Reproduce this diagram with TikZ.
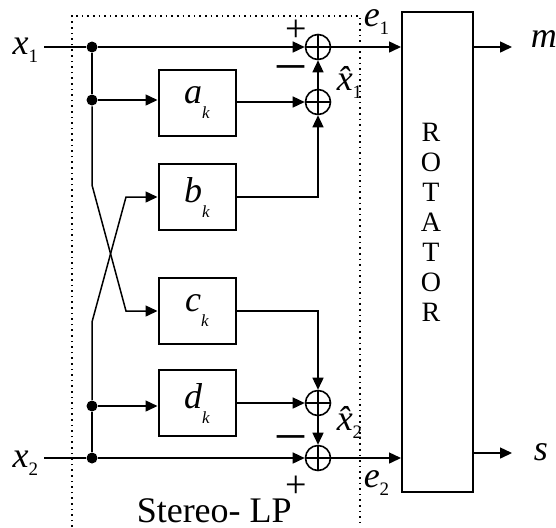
\documentclass[tikz,border=0pt]{standalone}
\usepackage{fontspec}
\setmainfont{Liberation Serif}
\usetikzlibrary{arrows.meta, positioning}

\newcommand{\nsub}[1]{\raisebox{-4pt}{\fontsize{9.5}{9.5}\selectfont\upshape #1}}
\newcommand{\ksub}{\raisebox{-7.5pt}{\fontsize{8.5}{8.5}\selectfont\itshape k}}

\tikzset{
  blk/.style={draw, line width=1pt, minimum width=38.5pt, minimum height=33pt, inner sep=0pt,
    font=\fontsize{18}{18}\selectfont\itshape},
  sumnode/.style={draw, circle, line width=0.8pt, minimum size=12.5pt, inner sep=0pt,
    path picture={\draw[line width=0.6pt]
      (path picture bounding box.north) -- (path picture bounding box.south)
      (path picture bounding box.west) -- (path picture bounding box.east);}},
  jdot/.style={circle, fill, minimum size=5.5pt, inner sep=0pt},
  sig/.style={-{Triangle[length=6pt,width=5.5pt]}},
  lbl/.style={inner sep=0pt, anchor=base west, font=\fontsize{18}{18}\selectfont\itshape},
  plus/.style={inner sep=0pt, anchor=base, text height=11pt, text depth=0pt,
    font=\fontsize{19}{19}\selectfont},
  minus/.style={inner sep=0pt, anchor=base, text height=8pt, text depth=0pt,
    font=\fontsize{27}{27}\selectfont},
}

\begin{document}
\begin{tikzpicture}[x=0.5pt, y=-0.5pt, line width=0.75pt]
  \useasboundingbox (0,0) rectangle (556,527);

  % Stereo-LP frame
  \draw[dotted, line width=0.8pt] (72,527) -- (72,16) -- (360,16) -- (360,527);
  \node[inner sep=0pt, anchor=base west, font=\fontsize{18}{18}\selectfont] (lp) at (136,522) {Stereo- LP};

  % Inputs and junctions
  \coordinate (x1in) at (44,47);
  \coordinate (x2in) at (44,458);
  \node[lbl] (x1) at (12,54) {x\nsub{1}};
  \node[lbl] (x2) at (12,467) {x\nsub{2}};
  \node[jdot] (j1) at (92,47) {};
  \node[jdot] (j2) at (92,100) {};
  \node[jdot] (j3) at (92,406) {};
  \node[jdot] (j4) at (92,458) {};

  % Filters
  \node[blk] (a) at (197,103) {a\ksub};
  \node[blk] (b) at (197,197) {b\ksub};
  \node[blk] (c) at (197,311) {c\ksub};
  \node[blk] (d) at (197,403) {d\ksub};

  % Summing points
  \node[sumnode] (s1) at (318,47) {};
  \node[sumnode] (s2) at (318,102) {};
  \node[sumnode] (s3) at (318,403) {};
  \node[sumnode] (s4) at (318,458) {};

  % Rotator
  \node[draw, line width=1pt, minimum width=35.5pt, minimum height=240pt] (rot) at (437.5,252) {};
  \node[align=center, inner sep=0pt, font=\fontsize{14}{15}\selectfont] (rottxt) at (431,222)
    {R\\O\\T\\A\\T\\O\\R};
  \coordinate (mout) at (512,47);
  \coordinate (sout) at (512,453);
  \node[lbl] (m) at (530,47) {m};
  \node[lbl] (s) at (533,460) {s};

  % Direct paths
  \draw (x1in) -- (j1);
  \draw[sig] (j1) -- (s1.west);
  \draw (x2in) -- (j4);
  \draw[sig] (j4) -- (s4.west);
  \draw (j1) -- (j2);
  \draw (j3) -- (j4);

  % Filter inputs (crossing)
  \draw[sig] (j2) -- (a.west |- j2);
  \draw[sig] (j3) -- (d.west |- j3);
  \draw[sig] (j2) -- (92,185) -- (126,311) -- (c.west);
  \draw[sig] (j3) -- (92,322) -- (126,197) -- (b.west);

  % Filter outputs
  \draw[sig] (a.east |- s2) -- (s2.west);
  \draw[sig] (d.east |- s3) -- (s3.west);
  \draw[sig] (b.east) -| (s2.south);
  \draw[sig] (c.east) -| (s3.north);
  \draw[sig] (s2.north) -- (s1.south);
  \draw[sig] (s3.south) -- (s4.north);

  % Errors into rotator and outputs
  \draw[sig] (s1.east) -- (rot.west |- s1);
  \draw[sig] (s4.east) -- (rot.west |- s4);
  \draw[sig] (rot.east |- mout) -- (mout);
  \draw[sig] (rot.east |- sout) -- (sout);

  % Signs and labels
  \node[plus] (p1) at (296,41) {+};
  \node[plus] (p2) at (296,497) {+};
  \node[minus] (n1) at (291,79) {–};
  \node[minus] (n2) at (291,449) {–};
  \node[lbl] (e1) at (363,26) {e\nsub{1}};
  \node[lbl] (e2) at (363,487) {e\nsub{2}};
  \node[lbl] (xh1) at (336,90) {\^{x}\nsub{1}};
  \node[lbl] (xh2) at (336,430) {\^{x}\nsub{2}};
\end{tikzpicture}
\end{document}
